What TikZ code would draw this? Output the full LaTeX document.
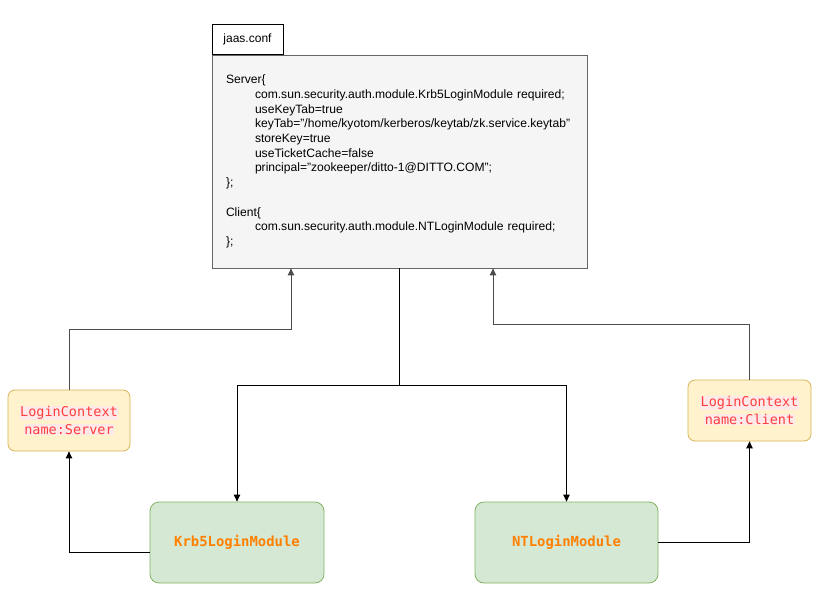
\documentclass[tikz,border=0pt]{standalone}
\usepackage{fontspec}
\setmainfont{Liberation Sans}
\newfontfamily\monof{DejaVu Sans Mono}
\usetikzlibrary{arrows.meta}
\definecolor{confill}{HTML}{F5F5F5}
\definecolor{condraw}{HTML}{666666}
\definecolor{ylfill}{HTML}{FFF2CC}
\definecolor{yldraw}{HTML}{D6B656}
\definecolor{grfill}{HTML}{D5E8D4}
\definecolor{grdraw}{HTML}{82B366}
\definecolor{redtxt}{HTML}{FF3F3F}
\definecolor{pinkbg}{HTML}{FFE8E8}
\definecolor{orgtxt}{HTML}{FF8000}
\newcommand{\hlline}[1]{{\setlength{\fboxsep}{0.6pt}\colorbox{pinkbg}{#1}}}
\tikzset{
  tabbox/.style={draw=black, line width=0.8pt, fill=white, minimum width=71pt, minimum height=30pt, inner sep=0pt, font=\fontsize{12}{14}\selectfont},
  confbox/.style={draw=condraw, line width=0.8pt, fill=confill, minimum width=375pt, minimum height=213pt, text width=347pt, align=left, inner sep=0pt, font=\fontsize{12.1}{14.7}\selectfont},
  ctxbox/.style={draw=yldraw, line width=0.8pt, fill=ylfill, rounded corners=7pt, minimum width=122pt, minimum height=61pt, align=center, inner sep=0pt, text=redtxt, font=\monof\fontsize{13.5}{18}\selectfont},
  modbox/.style={draw=grdraw, line width=0.8pt, fill=grfill, rounded corners=9pt, minimum height=81pt, inner sep=0pt, text=orgtxt, font=\monof\bfseries\fontsize{13.9}{16}\selectfont},
  conn/.style={draw=black, line width=0.9pt},
  arr/.style={conn, -{Triangle[length=7pt,width=6.5pt]}},
  garr/.style={draw=black!70, line width=0.9pt, -{Triangle[length=7pt,width=6.5pt]}}
}
\begin{document}
\begin{tikzpicture}[x=1pt,y=-1pt]
\useasboundingbox[fill=white] (0,0) rectangle (832,599);

\node[confbox] (conf) at (399.5,161.5) {%
Server\{\\
\hspace*{29pt}com.sun.security.auth.module.Krb5LoginModule required;\\
\hspace*{29pt}useKeyTab=true\\
\hspace*{29pt}keyTab="/home/kyotom/kerberos/keytab/zk.service.keytab"\\
\hspace*{29pt}storeKey=true\\
\hspace*{29pt}useTicketCache=false\\
\hspace*{29pt}principal="zookeeper/ditto-1@DITTO.COM";\\
\};\\[14.7pt]
Client\{\\
\hspace*{29pt}com.sun.security.auth.module.NTLoginModule required;\\
\};};
\node[tabbox] (tab) at (247.5,39) {jaas.conf};

\node[ctxbox] (lcs) at (69,420.5) {\hlline{LoginContext}\\\hlline{name:Server}};
\node[ctxbox, minimum width=123pt] (lcc) at (749.5,410.5) {\hlline{LoginContext}\\\hlline{name:Client}};

\node[modbox, minimum width=174pt] (krb) at (237,542.5) {Krb5LoginModule};
\node[modbox, minimum width=183pt] (nt) at (566.5,542.5) {NTLoginModule};

\coordinate (split) at (399.5,385);
\draw[conn] (conf.south) -- (split);
\draw[arr] (split) -| (krb.north);
\draw[arr] (split) -| (nt.north);

\draw[arr] ([yshift=-9.5pt]krb.west) -| (lcs.south);
\coordinate (lk) at (291,329);
\draw[garr] (lcs.north) |- (lk) -- (lk |- conf.south);

\draw[arr] (nt.east) -| (lcc.south);
\coordinate (rk) at (493,324);
\draw[garr] (lcc.north) |- (rk) -- (rk |- conf.south);
\end{tikzpicture}
\end{document}
